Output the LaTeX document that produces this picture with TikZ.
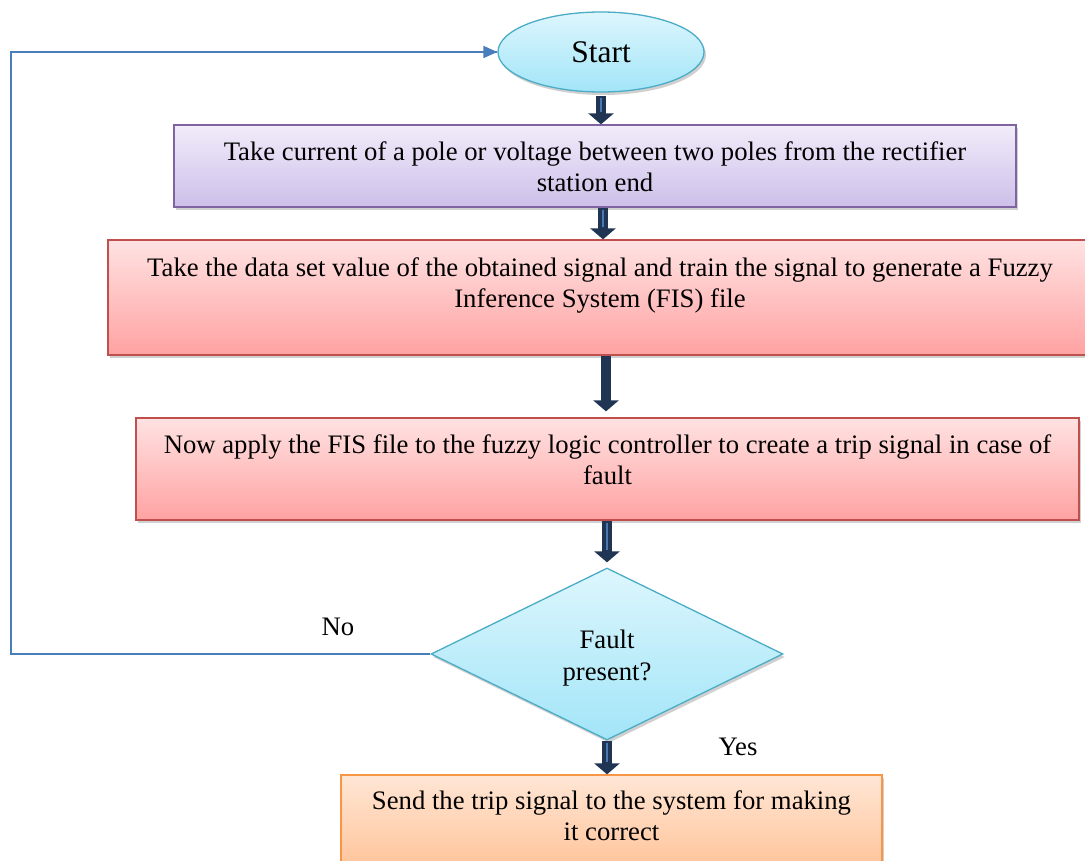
\documentclass[tikz,border=0pt]{standalone}
\usepackage{fontspec}
\setmainfont{Liberation Serif}
\usetikzlibrary{shapes.geometric,arrows.meta,shadows,calc}
\definecolor{cyanT}{HTML}{DDF6FD}
\definecolor{cyanB}{HTML}{A2E5F8}
\definecolor{cyanD}{HTML}{4BACC6}
\definecolor{purT}{HTML}{F1ECFA}
\definecolor{purB}{HTML}{CDBFE9}
\definecolor{purD}{HTML}{8064A2}
\definecolor{redT}{HTML}{FFE2E2}
\definecolor{redB}{HTML}{FFA2A2}
\definecolor{redD}{HTML}{C0504D}
\definecolor{orT}{HTML}{FFE6D5}
\definecolor{orB}{HTML}{FFBC8C}
\definecolor{orD}{HTML}{F79646}
\definecolor{navy}{HTML}{1F3553}
\definecolor{navyL}{HTML}{4A78B0}
\definecolor{loopC}{HTML}{4A7EBB}
\tikzset{
  shd/.style={drop shadow={shadow xshift=2pt,shadow yshift=-3pt,opacity=0.3,fill=black!60}},
  pbox/.style={rectangle,draw=purD,line width=1.3pt,top color=purT,bottom color=purB,shd,inner sep=0pt},
  rbox/.style={rectangle,draw=redD,line width=1.3pt,top color=redT,bottom color=redB,shd,inner sep=0pt},
  obox/.style={rectangle,draw=orD,line width=1.3pt,top color=orT,bottom color=orB,shd,inner sep=0pt},
  txt/.style={align=center,inner sep=0pt,anchor=north},
  blockarrow/.style={draw=navy,line width=10pt,-{Triangle[width=25pt,length=11pt]}},
  innerline/.style={draw=navyL,line width=1.8pt,shorten >=12pt,shorten <=2pt},
  loopline/.style={draw=loopC,line width=1.8pt},
}
\begin{document}
\begin{tikzpicture}[x=1pt,y=-1pt,font=\fontsize{26.7}{31}\selectfont]
\clip (0,0) rectangle (1085,861);
\fill[white] (0,0) rectangle (1085,861);
% nodes
\node[ellipse,draw=cyanD,line width=1.3pt,top color=cyanT,bottom color=cyanB,shd,
      minimum width=206pt,minimum height=80pt,inner sep=0pt,
      font=\fontsize{31.5}{36}\selectfont] (start) at (601,52) {Start};
\node[pbox,minimum width=842pt,minimum height=82pt] (p) at (595,166) {};
\node[txt] (pt) at ([yshift=-17pt]p.north) {Take current of a pole or voltage between two poles from the rectifier\\station end};
\node[rbox,minimum width=984pt,minimum height=115pt] (r1) at (600,297.5) {};
\node[txt] (r1t) at ([yshift=-18pt]r1.north) {Take the data set value of the obtained signal and train the signal to generate a Fuzzy\\Inference System (FIS) file};
\node[rbox,minimum width=943pt,minimum height=102pt] (r2) at (607.5,469) {};
\node[txt] (r2t) at ([yshift=-17pt]r2.north) {Now apply the FIS file to the fuzzy logic controller to create a trip signal in case of\\fault};
\node[diamond,draw=cyanD,line width=1.3pt,top color=cyanT,bottom color=cyanB,shd,
      minimum width=352pt,minimum height=172pt,inner sep=0pt] (d) at (607,654) {};
\node[align=center,inner sep=0pt,font=\fontsize{26.7}{32}\selectfont] (dt) at ([yshift=-4pt]d.center) {Fault\\present?};
\node[fill=white,minimum width=150pt,minimum height=50pt,anchor=north west,inner sep=0pt] (yesbox) at (656,720) {};
\node (yes) at (738,747) {Yes};
\node (no) at (338,627) {No};
\node[obox,minimum width=541pt,minimum height=115pt] (o) at (611.5,832.5) {};
\node[txt] (ot) at ([yshift=-16pt]o.north) {Send the trip signal to the system for making\\it correct};
% loop connector
\coordinate (lc) at (11,52);
\draw[loopline] (d.west) -| (lc) -- (start.west);
\draw[loopC,-{Triangle[width=12pt,length=14pt]},line width=1.8pt] ([xshift=-20pt]start.west) -- (start.west);
% block arrows
\draw[blockarrow] ([yshift=-3pt]start.south) -- (start.south |- p.north);
\draw[innerline] ([yshift=-3pt]start.south) -- (start.south |- p.north);
\draw[blockarrow] ([xshift=8pt]p.south) -- ([xshift=8pt]p.south |- r1.north);
\draw[innerline] ([xshift=8pt]p.south) -- ([xshift=8pt]p.south |- r1.north);
\draw[blockarrow] ([xshift=6pt]r1.south) -- ($([xshift=6pt]r1.south |- r2.north)+(0,-6)$);
\draw[blockarrow] (d.north |- r2.south) -- ($(d.north)+(0,-5)$);
\draw[innerline] (d.north |- r2.south) -- ($(d.north)+(0,-5)$);
\draw[blockarrow] (d.south) -- (d.south |- o.north);
\draw[innerline] (d.south) -- (d.south |- o.north);
\end{tikzpicture}
\end{document}
